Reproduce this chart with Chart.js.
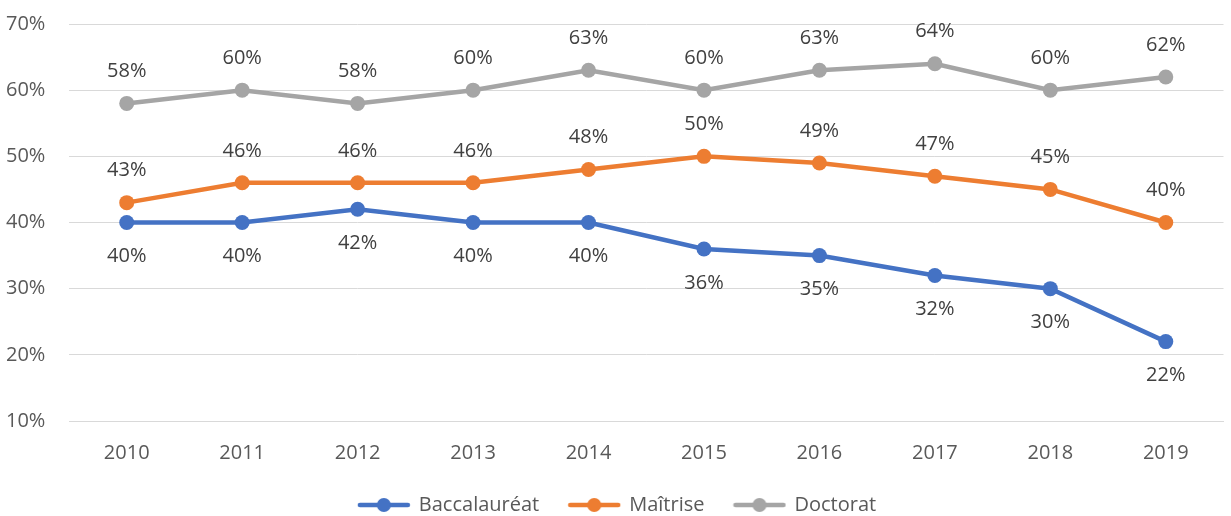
<!DOCTYPE html>
<html>
<head>
<meta charset="utf-8">
<script src="https://cdn.jsdelivr.net/npm/chart.js@4.4.1/dist/chart.umd.min.js"></script>
<style>
  html, body { margin: 0; padding: 0; background: #fff; }
  #wrap { width: 1231px; height: 516px; }
</style>
</head>
<body>
<div id="wrap"><canvas id="lineChart" width="1231" height="516"></canvas></div>
<script>
const years = ['2010', '2011', '2012', '2013', '2014', '2015', '2016', '2017', '2018', '2019'];
const baccalaureat = [40, 40, 42, 40, 40, 36, 35, 32, 30, 22];
const maitrise = [43, 46, 46, 46, 48, 50, 49, 47, 45, 40];
const doctorat = [58, 60, 58, 60, 63, 60, 63, 64, 60, 62];
const seriesNames = ['Baccalauréat', 'Maîtrise', 'Doctorat'];
const seriesColors = ['#4472C4', '#ED7D31', '#A5A5A5'];
const yTicks = [10, 20, 30, 40, 50, 60, 70];

const FONT = "'Open Sans', sans-serif";

// legend icon: short line with a dot in the middle
function legendIcon(color) {
    const c = document.createElement('canvas');
    c.width = 54; c.height = 16;
    const g = c.getContext('2d');
    g.strokeStyle = color;
    g.lineWidth = 4.5;
    g.lineCap = 'round';
    g.beginPath();
    g.moveTo(3, 8); g.lineTo(51, 8);
    g.stroke();
    g.fillStyle = color;
    g.beginPath();
    g.arc(27, 8, 7, 0, Math.PI * 2);
    g.fill();
    return c;
}

// simple value labels (above for Maîtrise/Doctorat, below for Baccalauréat)
const valueLabels = {
    id: 'valueLabels',
    afterDatasetsDraw(chart) {
        const ctx = chart.ctx;
        ctx.save();
        ctx.font = '20px ' + FONT;
        ctx.fillStyle = '#404040';
        ctx.textAlign = 'center';
        ctx.textBaseline = 'middle';
        chart.data.datasets.forEach((ds, i) => {
            const meta = chart.getDatasetMeta(i);
            meta.data.forEach((pt, j) => {
                const dy = ds.labelPos === 'below' ? 34 : -32;
                ctx.fillText(ds.data[j] + '%', pt.x, pt.y + dy);
            });
        });
        ctx.restore();
    }
};

const seriesData = [baccalaureat, maitrise, doctorat];
const datasets = seriesNames.map((name, i) => ({
    label: name,
    data: seriesData[i],
    borderColor: seriesColors[i],
    backgroundColor: seriesColors[i],
    borderWidth: 4.5,
    pointRadius: 7.5,
    pointHoverRadius: 7.5,
    pointBorderWidth: 0,
    tension: 0,
    labelPos: i === 0 ? 'below' : 'above',
    pointStyle: 'circle'
}));

new Chart(document.getElementById('lineChart'), {
    type: 'line',
    data: { labels: years, datasets: datasets },
    options: {
        responsive: false,
        animation: false,
        layout: { padding: { top: 24, right: 2, bottom: 0, left: 6 } },
        plugins: {
            legend: {
                position: 'bottom',
                maxHeight: 51,
                labels: {
                    usePointStyle: true,
                    pointStyleWidth: 50,
                    boxHeight: 16,
                    font: { family: FONT, size: 20 },
                    color: '#595959',
                    padding: 30,
                    generateLabels(chart) {
                        return chart.data.datasets.map((ds, i) => ({
                            text: ds.label,
                            pointStyle: legendIcon(ds.borderColor),
                            fillStyle: ds.borderColor,
                            strokeStyle: ds.borderColor,
                            lineWidth: 0,
                            fontColor: '#595959',
                            datasetIndex: i
                        }));
                    }
                }
            },
            tooltip: { enabled: false }
        },
        scales: {
            x: {
                offset: true,
                afterFit(axis) { axis.height = 44; },
                grid: { display: false },
                border: { color: '#d9d9d9', width: 1 },
                ticks: { font: { family: FONT, size: 20 }, color: '#595959', padding: 12 }
            },
            y: {
                min: 10,
                max: 70,
                afterBuildTicks(axis) {
                    axis.ticks = yTicks.map(v => ({ value: v }));
                },
                afterFit(axis) { axis.width = 63; },
                grid: { color: '#d9d9d9', lineWidth: 1, drawTicks: false },
                border: { display: false },
                ticks: {
                    font: { family: FONT, size: 20 },
                    color: '#595959',
                    padding: 0,
                    crossAlign: 'far',
                    callback: v => v + '%'
                }
            }
        }
    },
    plugins: [valueLabels]
});
</script>
</body>
</html>
